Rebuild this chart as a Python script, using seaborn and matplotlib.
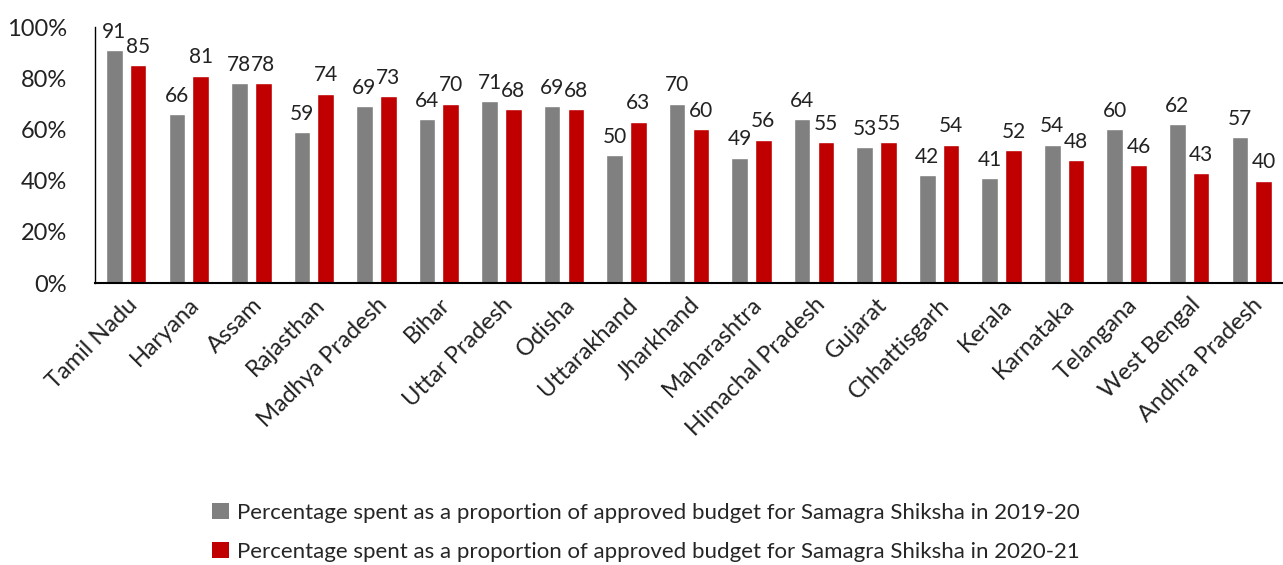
import matplotlib
matplotlib.use("Agg")
import matplotlib.pyplot as plt
import seaborn as sns
import pandas as pd
from matplotlib.patches import Patch

states = ["Tamil Nadu", "Haryana", "Assam", "Rajasthan", "Madhya Pradesh", "Bihar",
          "Uttar Pradesh", "Odisha", "Uttarakhand", "Jharkhand", "Maharashtra",
          "Himachal Pradesh", "Gujarat", "Chhattisgarh", "Kerala", "Karnataka",
          "Telangana", "West Bengal", "Andhra Pradesh"]
spent_2019_20 = [91, 66, 78, 59, 69, 64, 71, 69, 50, 70, 49, 64, 53, 42, 41, 54, 60, 62, 57]
spent_2020_21 = [85, 81, 78, 74, 73, 70, 68, 68, 63, 60, 56, 55, 55, 54, 52, 48, 46, 43, 40]
series_names = ["Percentage spent as a proportion of approved budget for Samagra Shiksha in 2019-20",
                "Percentage spent as a proportion of approved budget for Samagra Shiksha in 2020-21"]
yticks = [0, 20, 40, 60, 80, 100]
ytick_labels = ["0%", "20%", "40%", "60%", "80%", "100%"]

colors = ["#808080", "#C00000"]

df = pd.DataFrame({
    "State": states * 2,
    "Value": spent_2019_20 + spent_2020_21,
    "Series": [series_names[0]] * len(states) + [series_names[1]] * len(states),
})

sns.set_theme(style="white")
plt.rcParams['font.family'] = ['Lato', 'DejaVu Sans']

fig = plt.figure(figsize=(12.83, 5.65), dpi=100)
ax = fig.add_axes([95 / 1283, 1 - 283 / 565, 1 - 95 / 1283, (283 - 27) / 565])

sns.barplot(data=df, x="State", y="Value", hue="Series", hue_order=series_names,
            palette=colors, width=0.76, gap=0.3, ax=ax, legend=False, saturation=1)

for cont in ax.containers:
    ax.bar_label(cont, fmt="%d", padding=6, fontsize=15, color="#222222")

ax.set_ylim(0, 100)
ax.set_xlim(-0.5, len(states) - 0.5)
ax.set_yticks(yticks)
ax.set_yticklabels(ytick_labels, fontsize=17, color="#222222")
ax.tick_params(axis="y", length=0, pad=20)
ax.set_xticks(range(len(states)))
ax.set_xticklabels(states, rotation=45, ha="right", rotation_mode="anchor",
                   fontsize=17, color="#222222")
ax.tick_params(axis="x", length=0, pad=8)
ax.set_xlabel("")
ax.set_ylabel("")
for s in ["top", "right"]:
    ax.spines[s].set_visible(False)
ax.spines["left"].set_color("black")
ax.spines["left"].set_linewidth(1.0)
ax.spines["bottom"].set_color("black")
ax.spines["bottom"].set_linewidth(1.5)

handles = [Patch(facecolor=c, edgecolor="none") for c in colors]
fig.legend(handles, series_names, loc="upper left", bbox_to_anchor=(203 / 1283, 1 - 494 / 565),
           frameon=False, fontsize=16, handlelength=0.75, handleheight=0.75,
           handletextpad=0.4, labelspacing=0.85, borderaxespad=0)

fig.savefig("out.png", dpi=100)
